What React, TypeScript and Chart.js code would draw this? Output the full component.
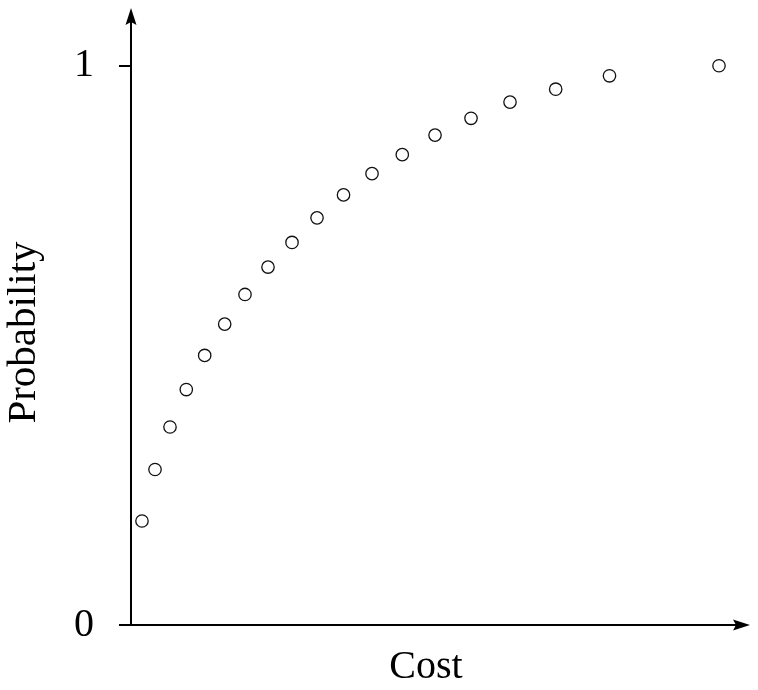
import React, { useEffect, useRef } from "react";
import { Chart, registerables } from "chart.js";

Chart.register(...registerables);

// Data
const costValues: number[] = [
  1.86, 4.07, 6.61, 9.37, 12.49, 15.88, 19.32, 23.22, 27.29, 31.53,
  36.02, 40.85, 45.98, 51.53, 57.63, 64.24, 71.98, 81.1, 99.66,
];
const probabilityValues: number[] = [
  0.186, 0.278, 0.354, 0.421, 0.482, 0.538, 0.591, 0.64, 0.684, 0.728,
  0.769, 0.807, 0.841, 0.876, 0.906, 0.935, 0.958, 0.982, 1.0,
];
const yTickValues: number[] = [0, 1];
const xAxisTitle = "Cost";
const yAxisTitle = "Probability";

const SERIF = "'Liberation Serif', 'Times New Roman', serif";

const axesArrowPlugin = {
  id: "axesArrows",
  beforeDatasetsDraw(chart: any) {
    const { ctx, chartArea } = chart;
    const x0 = chartArea.left;
    const y0 = chartArea.bottom;
    const yTip = 8;
    const xTip = 750;
    const headLen = 17;
    const headHalf = 5.5;
    const notch = 3;
    ctx.save();
    ctx.strokeStyle = "#000";
    ctx.fillStyle = "#000";
    ctx.lineWidth = 2;
    ctx.beginPath();
    ctx.moveTo(x0, y0 + 1);
    ctx.lineTo(x0, yTip + headLen - notch);
    ctx.moveTo(x0 - 1, y0);
    ctx.lineTo(xTip - headLen + notch, y0);
    ctx.stroke();
    // y arrow head
    ctx.beginPath();
    ctx.moveTo(x0, yTip);
    ctx.lineTo(x0 + headHalf, yTip + headLen);
    ctx.lineTo(x0, yTip + headLen - notch);
    ctx.lineTo(x0 - headHalf, yTip + headLen);
    ctx.closePath();
    ctx.fill();
    // x arrow head
    ctx.beginPath();
    ctx.moveTo(xTip, y0);
    ctx.lineTo(xTip - headLen, y0 - headHalf);
    ctx.lineTo(xTip - headLen + notch, y0);
    ctx.lineTo(xTip - headLen, y0 + headHalf);
    ctx.closePath();
    ctx.fill();
    ctx.restore();
  },
};

export default function App() {
  const canvasRef = useRef<HTMLCanvasElement | null>(null);

  useEffect(() => {
    const canvas = canvasRef.current;
    if (!canvas) return;
    const points = costValues.map((c, i) => ({ x: c, y: probabilityValues[i] }));
    const chart = new Chart(canvas, {
      type: "scatter",
      data: {
        datasets: [
          {
            data: points,
            pointStyle: "circle",
            pointRadius: 6.2,
            pointHoverRadius: 6.2,
            pointBorderWidth: 1.3,
            borderColor: "#111",
            backgroundColor: "rgba(255,255,255,0)",
            clip: false as any,
          },
        ],
      },
      options: {
        responsive: false,
        animation: false,
        devicePixelRatio: 1,
        layout: { padding: { top: 40, right: 37, left: 0, bottom: 0 } },
        plugins: {
          legend: { display: false },
          tooltip: { enabled: false },
        },
        scales: {
          x: {
            type: "linear",
            min: 0,
            max: 100,
            afterFit: (scale: any) => {
              scale.height = 65;
              scale.paddingLeft = 0;
              scale.paddingRight = 0;
            },
            grid: { display: false },
            border: { display: false },
            ticks: { display: false },
            title: {
              display: true,
              text: xAxisTitle,
              color: "#000",
              font: { family: SERIF, size: 40, lineHeight: 1 },
              padding: { top: 0, bottom: 3 },
            },
          },
          y: {
            type: "linear",
            min: 0,
            max: 1.046,
            afterFit: (scale: any) => {
              scale.width = 131;
              scale.paddingTop = 0;
              scale.paddingBottom = 0;
            },
            afterBuildTicks: (scale: any) => {
              scale.ticks = yTickValues.map((v) => ({ value: v }));
            },
            grid: {
              display: true,
              drawOnChartArea: false,
              drawTicks: true,
              tickLength: 12,
              color: "#000",
              lineWidth: 2,
            },
            border: { display: false },
            ticks: {
              color: "#000",
              padding: 25,
              font: { family: SERIF, size: 40 },
              callback: (v: any) => String(v),
            },
            title: {
              display: true,
              text: yAxisTitle,
              color: "#000",
              font: { family: SERIF, size: 41 },
              padding: { top: 0, bottom: 0 },
            },
          },
        },
      },
      plugins: [axesArrowPlugin],
    });
    return () => chart.destroy();
  }, []);

  return (
    <div style={{ position: "fixed", left: 0, top: 0, width: 758, height: 690, background: "#fff" }}>
      <canvas ref={canvasRef} width={758} height={690} style={{ display: "block" }} />
    </div>
  );
}
